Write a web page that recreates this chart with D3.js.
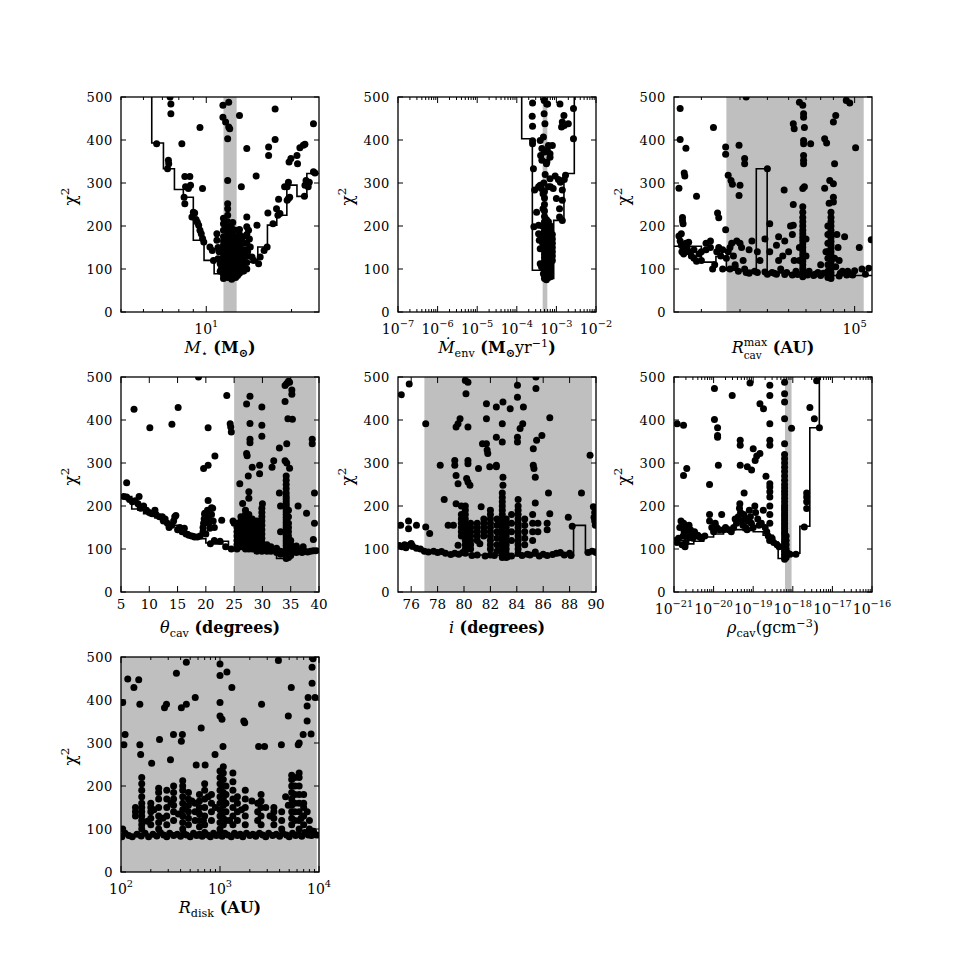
<!DOCTYPE html>
<html><head><meta charset="utf-8">
<script src="https://cdn.jsdelivr.net/npm/d3@7"></script>
<style>
body{margin:0;background:#fff}
text{font-family:"DejaVu Serif","Liberation Serif",serif;fill:#000}
</style>
</head><body>
<svg id="c" width="969" height="969"></svg>
<script>
// ---------------- DATA ----------------
const chiTicks = [0,100,200,300,400,500];

// Panel 1: M_star (Msun)
const p1Domain = [5,25];
const p1Labels = [10];
const p1Band = [11.5,12.8];
const p1StepEdges = [6.42,7.06,7.72,8.30,9.0,9.82,10.66,11.49,12.64,13.79,15.2,16.44,17.74,19.25,20.9,22.65,25];
const p1StepVals  = [393,333,285,267,167,120,89,78,91,116,151,202,225,295,269,322];
const p1Points = [[7.45,500],[7.5,484],[7.5,461],[6.68,391],[8.2,391],[9.5,429],[9.7,287],[8.75,315],[8.8,295],[8.65,287],[7.35,353],[7.37,345],[7.3,333],[11.45,481],[12.0,488],[11.45,453],[11.7,442],[12.0,430],[12.1,426],[11.9,403],[11.9,306],[11.9,252],[13.1,457],[13.3,291],[13.9,380],[15.0,316],[16.6,384],[16.6,364],[17.5,472],[17.5,401],[15.1,202],[16.5,230],[17.7,240],[18.0,262],[18.9,291],[19.5,302],[19.6,349],[19.9,357],[20.9,364],[21.0,345],[21.4,382],[22.0,388],[22.3,390],[23.9,438],[24.2,323],[22.2,269],[22.5,306],[22.3,295],[19.3,291],[17.9,225],
[8.4,315],[8.45,291],[8.35,267],[8.4,252],[8.9,221],[9.0,232],[9.1,230],[9.2,215],[9.3,209],[9.4,202],[9.5,190],[9.6,182],[9.7,171],[9.8,163],[10.3,151],[10.5,143],[10.9,182],[10.9,167],[11.0,124],[11.2,112],[10.6,120],[11.0,150],[11.1,140],
[14.1,190],[14.3,151],[14.5,128],[14.7,120],[15.3,112],[15.5,128],[16.0,143],[16.4,151],[17.2,205],[18.2,229],[19.3,260],[19.5,264],[19.7,267],[22.9,291],[23.1,302],[23.9,326],[11.3,100],[11.2,95],[12.9,85],[14.2,170],[14.0,140],[11.8,200],[12.4,208]];
const p1Cols = [[11.5,[78,86,95,104,112,120,128,136,145,155,165,175,190,205,218]],
[11.9,[80,88,96,105,115,125,135,145,155,165,175,185,195,210,225,240]],
[12.3,[76,84,92,100,110,120,130,140,150,160,170,180,195]],
[12.7,[80,90,100,110,120,130,140,150,160,175,190]],
[13.1,[90,100,110,120,130,142,155,168,180,192]],
[13.5,[95,105,118,130,145,160,175]],
[13.9,[100,115,130,145,160,180,198,221]]];

// Panel 2: Mdot_env (Msun/yr)
const p2Domain = [1e-7,1e-2];
const p2Labels = [1e-7,1e-6,1e-5,1e-4,1e-3,1e-2];
const p2Band = [4.5e-4,5.9e-4];
const p2StepEdges = [1.33e-4,2.47e-4,4.5e-4,8.55e-4,1.55e-3,2.83e-3];
const p2StepVals  = [403,97,78,213,322];
const p2Points = [[2.5e-4,486],[2.45e-4,455],[2.5e-4,432],[2.5e-4,398],[2.5e-4,391],[2.63e-4,333],[2.82e-4,284],[3.16e-4,232],[4.17e-4,287],[4.9e-4,492],[4.9e-4,461],[5.13e-4,438],[5.7e-4,484],[6.0e-4,484],[4.7e-4,407],[4.3e-4,380],[5.0e-4,372],[5.9e-4,376],[6.9e-4,368],[6.9e-4,360],[5.75e-4,349],[6.3e-4,387],[7.9e-4,387],[3.9e-4,399],[4.0e-4,364],[4.3e-4,353],[1.23e-3,484],[1.35e-3,430],[1.55e-3,457],[1.58e-3,434],[2.0e-3,438],[1.41e-3,442],[2.7e-3,473],[2.7e-3,403],[6.9e-4,310],[8.3e-4,287],[9.3e-4,316],[1.12e-3,308],[1.26e-3,302],[1.41e-3,284],[1.58e-3,308],[1.7e-3,318],[1.0e-3,264],[1.2e-3,240],[1.2e-3,221],[1.41e-3,260],[1.41e-3,213],[3.55e-4,291],[3.9e-4,295],[6.3e-4,291],[7.1e-4,291],[2.7e-4,198],[3.55e-4,202],[3.55e-4,182],[3.7e-4,167],[3.9e-4,147],[3.9e-4,112],[4.2e-4,105],[4.7e-4,89],[4.5e-4,160],[4.5e-4,180],[4.4e-4,200],[4.6e-4,240],[4.6e-4,275],[4.8e-4,300],[5.2e-4,320],[5.6e-4,345]];
const p2Cols = [[5.0e-4,[78,86,94,102,110,118,126,134,142,150,158,166,174,182,190,200,210,222,235,250,265,280]],
[5.6e-4,[75,84,92,100,108,116,124,132,140,148,156,164,172,180,188,196,205,215]],
[6.3e-4,[80,88,96,104,112,120,128,136,144,152,160,168,176,184,192,200,210]],
[7.1e-4,[82,90,100,110,120,130,140,150,160,170,180,190,200]],
[7.9e-4,[120,130,140,150,160,170,180]]];

// Panel 3: R_cav^max (AU)
const p3Domain = [1.5e4,1.2e5];
const p3Labels = [1e5];
const p3Band = [2.6e4,1.1e5];
const p3StepEdges = [1.5e4,2.0e4,2.33e4,2.6e4,3.56e4,3.99e4,5.6e4,7.95e4,1.2e5];
const p3StepVals  = [153,116,129,97,333,91,87,85];
const p3Points = [[1.6e4,473],[1.6e4,401],[1.58e4,288],[1.7e4,381],[1.67e4,323],[1.68e4,316],[2.27e4,429],[1.9e4,269],[2.37e4,230],[2.4e4,219],[2.58e4,384],[2.58e4,367],[2.58e4,191],[2.65e4,318],[2.73e4,306],[2.77e4,297],[2.97e4,388],[3.0e4,295],[2.97e4,271],[3.15e4,357],[3.15e4,345],[4.0e4,333],[4.1e4,205],[4.77e4,284],[5.25e4,438],[5.3e4,426],[5.25e4,250],[5.25e4,202],[5.6e4,488],[5.8e4,481],[5.85e4,461],[5.85e4,453],[5.9e4,429],[5.85e4,399],[5.85e4,391],[5.85e4,364],[5.85e4,353],[5.85e4,345],[5.9e4,291],[5.8e4,287],[6.3e4,391],[7.3e4,403],[7.45e4,393],[7.3e4,288],[7.7e4,306],[8.0e4,298],[8.0e4,442],[8.2e4,457],[8.1e4,345],[8.0e4,267],[8.0e4,256],[7.65e4,253],[9.16e4,492],[9.5e4,486],[1.01e5,382],[1.19e5,168],[3.2e4,500],
[1.58e4,177],[1.62e4,182],[1.6e4,165],[1.62e4,155],[1.65e4,150],[1.63e4,140],[1.66e4,135],[1.68e4,145],[1.64e4,220],[1.64e4,212],[1.65e4,205],[1.7e4,160],[1.72e4,150],[1.75e4,140],[1.8e4,130],[1.85e4,125],[1.9e4,118],[1.95e4,135],[2.0e4,140],[2.0e4,120],[2.1e4,145],[2.1e4,160],[2.2e4,165],[2.2e4,150],[2.25e4,100],[2.3e4,110],[2.35e4,140],[2.4e4,150],[2.45e4,130],[2.5e4,145],[2.5e4,100],[1.75e4,162],[1.85e4,145],
[2.6e4,125],[2.65e4,140],[2.7e4,150],[2.75e4,160],[2.8e4,130],[2.85e4,110],[2.9e4,165],[2.95e4,95],[3.0e4,160],[3.05e4,150],[3.1e4,120],[3.15e4,100],[3.2e4,92],[3.3e4,90],[3.3e4,145],[3.4e4,165],[3.5e4,95],[3.6e4,140],[3.7e4,120],[3.9e4,170],[4.1e4,140],[4.2e4,92],[4.3e4,90],[4.4e4,155],[4.5e4,175],[4.5e4,120],[4.6e4,100],[4.7e4,130],[4.8e4,165],[4.9e4,92],[5.0e4,140],[5.1e4,200],[5.2e4,180],[5.3e4,120],[5.4e4,95],[2.7e4,100],[2.85e4,105],[3.6e4,92],[3.9e4,93],
[5.6e4,150],[5.6e4,120],[6.0e4,170],[6.0e4,130],[6.2e4,95],[6.5e4,85],[6.8e4,92],[7.0e4,110],[7.2e4,90],[7.4e4,140],
[8.3e4,180],[8.4e4,150],[8.5e4,120],[8.6e4,90],[8.8e4,95],[9.0e4,175],[9.3e4,95],[9.6e4,88],[1.0e5,96],[1.05e5,150],[1.08e5,100],[1.12e5,88],[1.16e5,102],[8.2e4,105],[8.1e4,125],
[4.0e4,88],[4.4e4,88],[4.8e4,87],[5.2e4,86],[5.5e4,87],[6.1e4,86],[6.6e4,88],[7.0e4,85],[8.5e4,84],[9.2e4,86],[9.8e4,86]];
const p3Cols = [[5.8e4,[82,88,95,102,110,118,126,134,142,150,158,166,174,182,190,200,210,220,232,245]],
[7.8e4,[78,85,92,100,108,116,124,132,140,148,156,164,172,180,190,200,210,220,232]],
[7.55e4,[80,95,110,125,140,160,180,200]]];

// Panel 4: theta_cav (degrees)
const p4Domain = [5,40];
const p4Labels = [5,10,15,20,25,30,35,40];
const p4Band = [25,39.5];
const p4StepEdges = [5,6.9,8,9,10,11,12,13,14,15,16,17,18,19,20,21,22,23,24,25,26,27,28,29,30,31,32,32.5,35,36,40];
const p4StepVals  = [222,193,190,182,178,172,165,160,155,148,140,135,130,124,114,112,112,118,100,103,102,98,97,95,95,93,92,78,88,93];
const p4Points = [[6.0,254],[6.0,221],[7.3,425],[8.2,222],[8.4,196],[10.1,382],[14.0,390],[15.1,429],[20.4,382],[18.7,500],[23.7,457],[24.3,391],[24.5,372],[24.4,384],[20.4,295],[19.6,287],[21.6,316],[20.4,213],[21.0,196],[19.8,180],
[26,252],[26.5,206],[27.2,437],[27.2,322],[27.3,317],[27.5,270],[27.8,455],[27.8,392],[27.8,355],[27.8,347],[27.6,233],[27.6,218],[28.2,290],[29.5,295],[29.5,275],[29.9,430],[29.9,388],[29.9,362],[30.0,205],[32.0,305],[31.7,290],[33.0,335],[33.0,230],[34.0,480],[34.3,485],[34.6,490],[34.8,488],[35.2,470],[35.2,460],[34.0,443],[34.5,403],[35.3,402],[34.3,345],[34.0,305],[34.3,300],[34.8,288],[36.3,200],[37.8,183],[38.8,355],[38.8,345],[39.2,230],[39.2,160],[39.0,122],[36.0,107],[37.2,105],
[5.5,222],[6.5,215],[7.0,210],[7.5,212],[8.0,205],[8.5,195],[9.0,200],[9.5,190],[10.0,185],[10.5,182],[11.0,190],[11.2,180],[11.8,175],[12.3,175],[12.5,165],[12.8,170],[13.2,160],[13.5,150],[14.0,155],[14.3,165],[14.5,175],[14.7,178],[15.0,145],[15.4,150],[15.8,140],[16.2,148],[16.5,135],[17.0,132],[17.5,130],[18.0,128],[18.5,128],[19.0,130],[19.5,140],[19.5,150],[19.6,160],[19.7,170],[19.8,183],[20.0,135],[20.3,190],[20.4,175],[20.5,160],[20.7,148],[20.8,112],[21.0,180],[21.2,195],[21.3,165],[21.5,150],[21.5,120],[22.5,118],[22.8,167],[23.5,105],[24.5,100],[24.8,165],[25.0,160],
[35.5,95],[36.0,92],[36.5,94],[37.0,92],[37.5,95],[38.0,93],[38.5,95],[39.0,96],[39.5,96],[35.8,100],[36.8,98]];
const p4Cols = [[25.5,[100,110,120,130,140,150,160]],
[26.2,[105,115,125,135,145,155,165,175]],
[27.0,[100,108,116,124,132,140,150,160,170,180,190]],
[27.6,[100,110,120,130,140,150,160,170,180]],
[28.2,[100,110,120,130,140,150,160,170]],
[29.0,[95,105,115,125,135,145,155,165]],
[29.9,[95,105,115,125,135,145,155,165,175,185,195]],
[30.8,[95,100,105,110]],[31.5,[95,100,105]],[32.5,[92,97,102]],[33.2,[88,95,140,200]],
[34.2,[78,84,90,96,102,108,114,120,126,132,138,144,150,156,162,168,174,180,186,192,198,204,210,216,222,230,240,250,260,270]],
[34.6,[80,88,96,104,112,120,130,140,150,160,175,190]],
[35.0,[85,92,100,110,120]]];

// Panel 5: inclination i (degrees)
const p5Domain = [75,90];
const p5Labels = [76,78,80,82,84,86,88,90];
const p5Band = [77,89.7];
const p5StepEdges = [75,75.5,76,76.5,77,78,79,80,81,82,83,84,85,86,87,88.3,89.2,90];
const p5StepVals  = [105,103,100,97,93,90,88,87,86,85,84,84,84,85,85,155,91];
const p5Points = [[75.25,459],[75.85,484],[77.1,391],[75.2,155],[75.8,165],[76.4,155],[75.8,147],[77.1,151],[77.4,136],[78.2,295],[78.5,215],[78.8,155],[79.2,155],[79.3,306],[79.3,295],[79.4,384],[79.55,391],[79.7,403],[79.4,271],[79.55,252],[79.4,205],[79.55,109],[80.1,492],[80.3,488],[80.15,461],[80.3,384],[80.3,306],[80.3,298],[80.2,264],[80.3,256],[80.45,248],[81.1,287],[81.2,112],[81.3,198],[81.4,345],[81.7,345],[81.7,438],[81.7,403],[81.75,330],[81.8,322],[81.95,291],[82.45,360],[82.45,430],[82.45,295],[82.45,291],[82.95,442],[82.9,391],[82.9,349],[82.95,267],[82.95,248],[83.5,426],[84.05,481],[84.05,453],[84.05,360],[84.05,349],[84.25,380],[84.45,391],[84.5,430],[85.25,333],[85.25,295],[85.3,287],[85.4,267],[85.4,207],[85.4,93],[85.45,500],[85.45,473],[85.5,353],[85.9,364],[86.4,230],[86.5,405],[86.5,182],[87.9,174],[88.2,153],[88.9,230],[89.55,318],[89.8,198],[89.85,174],[89.95,155],[89.9,165],[89.9,185],
[75.1,108],[75.3,105],[75.6,103],[75.9,110],[76.1,107],[76.4,102],[76.7,100],[77.0,95],[77.3,93],[77.7,95],[78.0,92],[78.3,94],[78.6,90],[79.0,87],[79.3,90],[79.6,88],[79.9,92],[80.6,85],[81.0,86],[81.6,84],[82.0,86],[82.3,85],[83.3,82],[83.6,84],[84.4,85],[84.8,88],[85.0,86],[85.7,84],[86.0,88],[86.3,85],[86.7,87],[87.0,90],[87.3,92],[87.6,86],[88.0,90],[88.1,85],[89.4,92],[89.7,95],[90.0,92],[75.5,110],[76.0,113]];
const p5Cols = [[79.8,[130,140,150,160,170,180,200]],
[80.1,[90,100,110,120,130,140,150,160,170,180,190,200]],
[80.5,[100,110,120,130,140,150,160]],
[81.0,[120,130,140,150,160]],
[81.5,[130,140,150,160,170]],
[82.0,[100,110,120,130,140,150,160,170,180,190]],
[82.5,[95,110,125,140,155,170]],
[82.9,[80,88,96,104,112,120,128,136,144,152,160,170,180,190,200,210,220,230]],
[83.2,[80,90,100,110,120,130,140,150,160,170]],
[83.6,[120,140,160,180]],
[84.1,[90,100,110,120,130,140,150,160,170,180,190,200,215]],
[84.6,[110,125,140,155,170]],
[85.2,[120,140,160,180]],[85.6,[140,160]],[86.3,[145,160]]];

// Panel 6: rho_cav (g cm^-3)
const p6Domain = [1e-21,1e-16];
const p6Labels = [1e-21,1e-20,1e-19,1e-18,1e-17,1e-16];
const p6Band = [6.35e-19,9.3e-19];
const p6StepEdges = [1e-21,1.78e-21,3.16e-21,5.62e-21,1e-20,1.78e-20,3.16e-20,5.62e-20,1e-19,1.78e-19,3.16e-19,4.27e-19,6.3e-19,1.51e-18,2.69e-18,4.68e-18];
const p6StepVals  = [120,112,118,128,135,142,145,143,140,132,116,78,90,153,382];
const p6Points = [[1.2e-21,391],[1.74e-21,388],[1.74e-21,271],[2.1e-21,287],[7.9e-21,250],[1.05e-20,473],[1.05e-20,401],[1.26e-20,382],[1.26e-20,364],[1.26e-20,360],[1.32e-20,295],[2.95e-20,457],[4.7e-20,353],[4.7e-20,341],[4.7e-20,295],[5.9e-20,230],[7.1e-20,291],[8.3e-20,486],[9.1e-20,284],[1e-19,333],[1.12e-19,306],[1.23e-19,316],[1.48e-19,322],[1.82e-19,426],[1.48e-19,438],[2.1e-19,269],[2.63e-19,481],[2.63e-19,457],[2.63e-19,391],[2.63e-19,353],[2.63e-19,341],[2.63e-19,252],[2.63e-19,244],[2.63e-19,233],[2.63e-19,221],[6.2e-19,488],[6.2e-19,461],[6.2e-19,442],[6.2e-19,403],[9.3e-19,381],[1.95e-18,151],[2.24e-18,194],[2.24e-18,230],[2.24e-18,221],[2.24e-18,210],[2.7e-18,429],[3.5e-18,403],[4e-18,491],[4.7e-18,382],
[1.1e-21,120],[1.3e-21,125],[1.6e-21,110],[1.7e-21,130],[1.8e-21,140],[1.8e-21,150],[1.75e-21,160],[2.0e-21,115],[2.2e-21,125],[2.3e-21,140],[2.4e-21,155],[2.6e-21,145],[2.8e-21,135],[3.0e-21,125],[3.3e-21,140],[3.6e-21,130],[4.0e-21,132],[4.5e-21,128],[5.0e-21,125],[6.0e-21,130],[7.9e-21,180],[7.9e-21,165],[9e-21,150],[1.0e-20,140],[1.1e-20,160],[1.2e-20,150],[1.4e-20,145],[1.6e-20,180],[1.8e-20,145],[2.0e-20,150],[2.4e-20,145],[2.8e-20,140],[3.2e-20,150],[3.5e-20,170],[3.8e-20,160],[4.2e-20,175],[4.5e-20,195],[4.6e-20,205],[4.8e-20,185],[5.0e-20,165],[5.5e-20,155],[5.8e-20,180],[6.2e-20,170],[6.5e-20,150],[7.0e-20,145],[7.5e-20,165],[8.0e-20,190],[8.5e-20,175],[9.0e-20,160],[1.0e-19,150],[1.1e-19,200],[1.15e-19,185],[1.3e-19,170],[1.4e-19,155],[1.6e-19,160],[1.8e-19,190],[2.0e-19,150],[2.2e-19,140],[2.4e-19,130],[2.6e-19,120],[2.63e-19,200],[2.63e-19,180],[2.63e-19,160],[3.0e-19,125],[3.3e-19,115],[4.0e-19,110],[4.5e-19,105],[1.4e-21,150],[1.5e-21,165],[1.9e-21,105],[1.2e-21,115],
[7.5e-19,90],[8.5e-19,88],[1.2e-18,88]];
const p6Cols = [[6.2e-19,[76,82,88,94,100,106,112,118,124,130,136,142,148,154,160,166,172,178,184,190,196,202,210,218,226,234,242,250,260,270,280,290,300,310,320,345]],
[6.8e-19,[80,90,100,110,120,130]]];

// Panel 7: R_disk (AU)
const p7Domain = [1e2,1e4];
const p7Labels = [1e2,1e3,1e4];
const p7Band = [1e2,9.5e3];
const p7Points = [[104,394],[107,296],[110,320],[117,449],[135,429],[151,447],[155,390],[155,296],[158,273],[204,253],[245,308],[275,382],[288,390],[316,261],[339,320],[363,462],[407,382],[407,304],[417,320],[457,390],[457,488],[562,406],[575,249],[646,335],[708,249],[891,273],[1000,484],[1000,457],[1000,394],[1000,363],[1047,355],[1072,292],[1175,465],[1318,429],[1738,351],[1778,347],[2455,292],[2630,390],[2818,292],[3890,492],[4169,296],[5248,429],[4898,363],[6166,296],[6310,300],[6918,320],[7586,351],[7586,386],[7762,406],[8511,476],[8710,496],[8511,439],[8318,321],[9120,406],
[102,82],[104,100],[110,90],[120,85],[130,82],[145,88],[160,84],[175,90],[190,82],[210,88],[230,84],[250,92],[270,86],[290,82],[310,90],[340,85],[370,88],[400,83],[430,90],[460,86],[500,82],[540,90],[580,85],[620,88],[660,83],[700,92],[750,86],[800,82],[860,90],[920,85],[980,88],[1050,83],[1120,90],[1200,86],[1300,82],[1400,90],[1500,85],[1600,88],[1700,82],[1850,90],[2000,85],[2150,88],[2300,83],[2500,90],[2700,86],[2900,82],[3100,90],[3400,85],[3700,88],[4000,83],[4300,90],[4700,86],[5000,82],[5400,90],[5800,85],[6200,88],[6700,83],[7200,92],[7800,86],[8400,85],[9000,88],[9500,86],
[185,118],[215,145],[265,125],[320,160],[380,135],[450,150],[520,165],[600,140],[680,120],[760,175],[900,150],[1250,120],[1650,145],[2100,165],[2900,150],[3200,130],[4600,175],[4900,155],[6600,125],[7600,140],[8800,95]];
const p7Cols = [[162,[100,110,120,130,140,150,160,175,190,205,220]],[140,[130,140,150]],[200,[110,125,140,150,160]],[240,[100,115,130,150,170,185,195]],[290,[110,130,150,170,190]],[340,[120,140,155,170,185,200]],[420,[100,115,130,145,160,175,190,200,212]],[480,[110,125,140,155,170,185]],[560,[120,140,160]],[620,[105,120,135,150,165,180]],[700,[110,130,150,170,190,205]],[820,[120,140,160,180]],[1000,[100,115,130,145,160,175,190,205,220,235]],[1080,[110,125,140,155,170,185,200,215,230,245]],[1150,[120,140,160,180,200]],[1350,[110,130,150,170,190,210,230]],[1500,[120,140,160,175]],[1800,[110,130,150,170,190]],[2400,[120,140,160]],[2600,[110,130,150,165,180]],[3500,[110,125,140,150]],[4200,[100,120,140]],[5300,[110,125,140,155,170,185,200,215,225]],[5700,[120,140,160,180,200,220]],[6300,[100,120,140,160,180,200,220,230]],[7000,[110,130,150,160,180]],[8000,[100,120]]];

// ---------------- DRAWING ----------------
const svg = d3.select('#c');
const W = 198, H = 215;
const cols = [121, 398, 674];
const rows = [97, 377, 657];

function expand(points, colsArr){
  const out = points.slice();
  colsArr.forEach(c => c[1].forEach(v => out.push([c[0], v])));
  return out;
}

function richText(sel, parts, size){
  const spans = [];
  parts.forEach(p => {
    const t = sel.append('tspan').text(p.t);
    let fs = size;
    if (p.sub || p.sup) fs = size*0.7;
    t.attr('font-size', fs);
    if (p.italic) t.attr('font-style','italic');
    if (p.bold) t.attr('font-weight','bold');
    if (p.dy) t.attr('dy', p.dy);
    if (p.dx) t.attr('dx', p.dx);
    spans.push(t);
  });
  return spans;
}

function drawPanel(p){
  const g = svg.append('g').attr('transform', `translate(${p.left},${p.top})`);
  const x = p.log ? d3.scaleLog().domain(p.domain).range([0,W])
                  : d3.scaleLinear().domain(p.domain).range([0,W]);
  const y = d3.scaleLinear().domain([0,500]).range([H,0]);
  const cid = 'clip' + p.id;
  g.append('clipPath').attr('id', cid).append('rect').attr('width', W).attr('height', H);
  const inner = g.append('g').attr('clip-path', `url(#${cid})`);
  if (p.band) inner.append('rect')
      .attr('x', x(p.band[0])).attr('width', x(p.band[1]) - x(p.band[0]))
      .attr('y', 0).attr('height', H).attr('fill', '#bfbfbf');
  if (p.edges){
    const pts = [];
    if (p.startTop) pts.push([p.edges[0], 520]);
    p.vals.forEach((v,i) => { pts.push([p.edges[i], v]); pts.push([p.edges[i+1], v]); });
    if (p.endTop) pts.push([p.edges[p.edges.length-1], 520]);
    inner.append('path').attr('d', d3.line().x(d=>x(d[0])).y(d=>y(d[1]))(pts))
      .attr('fill','none').attr('stroke','#000').attr('stroke-width',1.6);
  }
  inner.selectAll('circle').data(p.points).join('circle')
    .attr('cx', d => x(d[0])).attr('cy', d => y(d[1])).attr('r', 3.5).attr('fill', '#000');

  // ticks
  const tk = g.append('g').attr('stroke', '#000').attr('stroke-width', 1);
  chiTicks.forEach(v => {
    tk.append('line').attr('x1',0).attr('x2',5).attr('y1',y(v)).attr('y2',y(v));
    tk.append('line').attr('x1',W).attr('x2',W-5).attr('y1',y(v)).attr('y2',y(v));
    g.append('text').attr('x',-8).attr('y',y(v)+5).attr('text-anchor','end')
      .attr('font-size',13).attr('letter-spacing',0.6).text(v);
  });
  let minor = [];
  if (p.log) minor = x.ticks().filter(v => !p.labels.some(l => Math.abs(l - v)/l < 1e-6));
  minor.forEach(v => {
    tk.append('line').attr('x1',x(v)).attr('x2',x(v)).attr('y1',H).attr('y2',H-3);
    tk.append('line').attr('x1',x(v)).attr('x2',x(v)).attr('y1',0).attr('y2',3);
  });
  p.labels.forEach(v => {
    tk.append('line').attr('x1',x(v)).attr('x2',x(v)).attr('y1',H).attr('y2',H-6);
    tk.append('line').attr('x1',x(v)).attr('x2',x(v)).attr('y1',0).attr('y2',6);
    const t = g.append('text').attr('x', x(v)).attr('text-anchor','middle');
    if (p.log){
      const e = Math.round(Math.log10(v));
      t.attr('y', H+22);
      richText(t, [{t:'10'}, {t:(e<0?'−':'')+Math.abs(e), sup:true, dy:-7}], 14);
    } else {
      t.attr('y', H+17).attr('font-size',13.5).text(v);
    }
  });
  g.append('rect').attr('width',W).attr('height',H).attr('fill','none')
    .attr('stroke','#000').attr('stroke-width',1.3);

  // y title
  const yt = g.append('text').attr('transform', `translate(-45,${H/2-8}) rotate(-90)`)
    .attr('text-anchor','middle');
  richText(yt, [{t:'χ'}, {t:'2', sup:true, dy:-7}], 17);
  // x title
  const xt = g.append('text').attr('x', W/2).attr('y', H+41).attr('text-anchor','middle');
  richText(xt, p.title, 16);
  if (p.stackSub){
    // subscript stacked under the superscript (e.g. R^max_cav)
    const node = xt.node();
    const idx = p.stackSub.at;
    const sx = node.getStartPositionOfChar(idx).x;
    g.append('text').attr('x', sx).attr('y', H+41+6).attr('font-size', 10.5).text(p.stackSub.t);
  }
}

const panels = [
 {id:1, left:cols[0], top:rows[0], log:true, domain:p1Domain, labels:p1Labels, band:p1Band,
  edges:p1StepEdges, vals:p1StepVals, startTop:true, points:expand(p1Points,p1Cols),
  title:[{t:'M',italic:true},{t:'⋆',sub:true,dy:4},{t:' (M',bold:true,dy:-4},{t:'⊙',sub:true,bold:true,dy:4},{t:')',bold:true,dy:-4}]},
 {id:2, left:cols[1], top:rows[0], log:true, domain:p2Domain, labels:p2Labels, band:p2Band,
  edges:p2StepEdges, vals:p2StepVals, startTop:true, endTop:true, points:expand(p2Points,p2Cols),
  title:[{t:'Ṁ',italic:true},{t:'env',sub:true,dy:4},{t:' (M',bold:true,dy:-4},{t:'⊙',sub:true,bold:true,dy:4},{t:'yr',dy:-4},{t:'−1',sup:true,dy:-6},{t:')',bold:true,dy:6}]},
 {id:3, left:cols[2], top:rows[0], log:true, domain:p3Domain, labels:p3Labels, band:p3Band,
  edges:p3StepEdges, vals:p3StepVals, points:expand(p3Points,p3Cols),
  title:[{t:'R',italic:true},{t:'max',sup:true,dy:-7},{t:' (AU)',bold:true,dy:7}],
  stackSub:{t:'cav', at:1}},
 {id:4, left:cols[0], top:rows[1], log:false, domain:p4Domain, labels:p4Labels, band:p4Band,
  edges:p4StepEdges, vals:p4StepVals, points:expand(p4Points,p4Cols),
  title:[{t:'θ',italic:true},{t:'cav',sub:true,dy:4},{t:' (degrees)',bold:true,dy:-4}]},
 {id:5, left:cols[1], top:rows[1], log:false, domain:p5Domain, labels:p5Labels, band:p5Band,
  edges:p5StepEdges, vals:p5StepVals, points:expand(p5Points,p5Cols),
  title:[{t:'i',italic:true},{t:' (degrees)',bold:true}]},
 {id:6, left:cols[2], top:rows[1], log:true, domain:p6Domain, labels:p6Labels, band:p6Band,
  edges:p6StepEdges, vals:p6StepVals, endTop:true, points:expand(p6Points,p6Cols),
  title:[{t:'ρ',italic:true},{t:'cav',sub:true,dy:4},{t:'(gcm',dy:-4},{t:'−3',sup:true,dy:-6},{t:')',dy:6}]},
 {id:7, left:cols[0], top:rows[2], log:true, domain:p7Domain, labels:p7Labels, band:p7Band,
  points:expand(p7Points,p7Cols),
  title:[{t:'R',italic:true},{t:'disk',sub:true,dy:4},{t:' (AU)',bold:true,dy:-4}]}
];
panels.forEach(drawPanel);
</script>
</body></html>
